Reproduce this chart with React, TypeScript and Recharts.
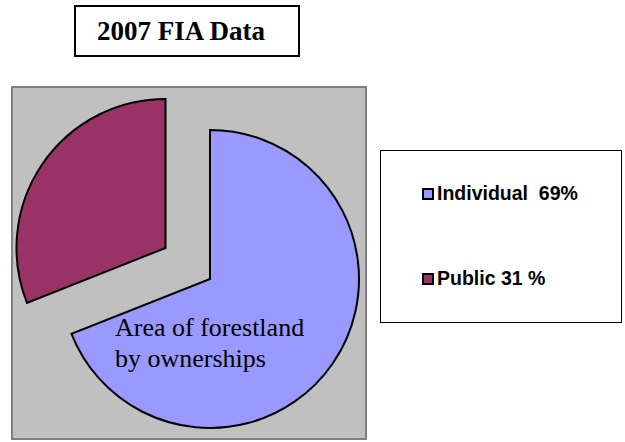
import { PieChart, Pie, Cell } from "recharts";

const categories = ["Individual", "Public"];
const shares = [69, 31];
const legendLabels = ["Individual  69%", "Public 31 %"];
const colors = ["#9999FF", "#993366"];

const data = categories.map((name, i) => ({ name, value: shares[i] }));

const serif = "'Liberation Serif', 'Times New Roman', serif";
const sans = "'Liberation Sans', Arial, sans-serif";

export default function App() {
  return (
    <div
      style={{
        position: "absolute",
        left: 0,
        top: 0,
        width: 625,
        height: 442,
        background: "#fff",
        overflow: "hidden",
      }}
    >
      {/* title box */}
      <div
        style={{
          position: "absolute",
          left: 74,
          top: 5,
          width: 201,
          height: 48,
          paddingLeft: 21,
          border: "2px solid #000",
          boxSizing: "content-box",
          display: "flex",
          alignItems: "center",
          fontFamily: serif,
          fontWeight: "bold",
          fontSize: 27,
        }}
      >
        2007 FIA Data
      </div>

      {/* plot area */}
      <div
        style={{
          position: "absolute",
          left: 11,
          top: 86,
          width: 352,
          height: 350,
          background: "#C0C0C0",
          border: "2px solid #808080",
        }}
      />

      <div style={{ position: "absolute", left: 0, top: 0 }}>
        <PieChart width={625} height={442} margin={{ top: 0, right: 0, bottom: 0, left: 0 }}>
          <Pie
            data={data}
            dataKey="value"
            nameKey="name"
            cx={210}
            cy={279}
            outerRadius={149}
            startAngle={90}
            endAngle={-270}
            isAnimationActive={false}
          >
            {data.map((d, i) => (
              <Cell
                key={d.name}
                fill={i === 0 ? colors[0] : "none"}
                stroke={i === 0 ? "#000" : "none"}
                strokeWidth={2}
              />
            ))}
          </Pie>
          <Pie
            data={data}
            dataKey="value"
            nameKey="name"
            cx={165.5}
            cy={248}
            outerRadius={149}
            startAngle={90}
            endAngle={-270}
            isAnimationActive={false}
          >
            {data.map((d, i) => (
              <Cell
                key={d.name}
                fill={i === 1 ? colors[1] : "none"}
                stroke={i === 1 ? "#000" : "none"}
                strokeWidth={2}
              />
            ))}
          </Pie>
        </PieChart>
      </div>

      {/* chart caption inside pie */}
      <div
        style={{
          position: "absolute",
          left: 115,
          top: 312,
          fontFamily: serif,
          fontSize: 26,
          lineHeight: "31px",
          color: "#000",
        }}
      >
        Area of forestland
        <br />
        by ownerships
      </div>

      {/* legend */}
      <div
        style={{
          position: "absolute",
          left: 380,
          top: 150,
          width: 240,
          height: 171,
          border: "1px solid #000",
          background: "#fff",
        }}
      >
        {categories.map((c, i) => (
          <div
            key={c}
            style={{
              position: "absolute",
              left: 41,
              top: i === 0 ? 31 : 116,
              display: "flex",
              alignItems: "center",
              fontFamily: sans,
              fontWeight: "bold",
              fontSize: 19.5,
              whiteSpace: "pre",
            }}
          >
            <span
              style={{
                display: "inline-block",
                width: 8,
                height: 8,
                background: colors[i],
                border: "2px solid #000",
                marginRight: 3,
              }}
            />
            {legendLabels[i]}
          </div>
        ))}
      </div>
    </div>
  );
}
